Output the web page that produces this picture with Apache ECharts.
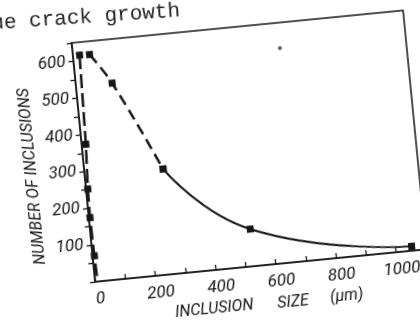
<!DOCTYPE html>
<html>
<head>
<meta charset="utf-8">
<script src="https://cdn.jsdelivr.net/npm/echarts@6/dist/echarts.min.js"></script>
<style>
  html, body { margin: 0; padding: 0; background: #fff; overflow: hidden; width: 420px; height: 325px; }
  /* the scan is tilted, so the whole drawing is turned a little */
  #chart { position: absolute; left: -30px; top: -30px; width: 480px; height: 385px;
           transform: rotate(-5.6deg); transform-origin: 50% 50%; }
</style>
</head>
<body>
<div id="chart"></div>
<script>
// steep curve hugging the y axis (dashed)
var steepX = [22, 14, 6, 4, 6, 8];
var steepY = [615, 373, 252, 174, 70, 15];
// second curve, dashed part then solid part
var dashX = [55, 120, 260];
var dashY = [614, 531, 286];
var solidX = [260, 527, 1052];
var solidY = [286, 101, 12];
// stray speck on the scan
var speckX = [683];
var speckY = [581];

var xTickLabels = [0, 200, 400, 600, 800, 1000];
var yTickLabels = [100, 200, 300, 400, 500, 600];

var ink = '#161616';
var lblFont = 'Roboto';

function pairs(xs, ys) {
    return xs.map(function (x, i) { return [x, ys[i]]; });
}

var steepData = pairs(steepX, steepY).map(function (p, i) {
    // line runs on a little past the last square
    return i === steepX.length - 1 ? { value: p, symbol: 'none' } : p;
});

function nameText(txt, x, y, rot) {
    return {
        type: 'text',
        x: x,
        y: y,
        rotation: rot || 0,
        style: {
            text: txt,
            font: 'italic 16px Roboto',
            fill: ink,
            align: 'center',
            verticalAlign: 'middle'
        }
    };
}

var myChart = echarts.init(document.getElementById('chart'));

option = {
    animation: false,
    backgroundColor: '#fff',
    grid: {
        left: 114,
        top: 60,
        width: 333,
        height: 240,
        show: true,
        borderColor: ink,
        borderWidth: 1.5
    },
    xAxis: {
        type: 'value',
        min: 0,
        max: 1100,
        interval: 100,
        axisLine: { lineStyle: { color: ink, width: 1.6 } },
        axisTick: { inside: true, length: 5, lineStyle: { color: ink, width: 1.3 } },
        splitLine: { show: false },
        axisLabel: {
            margin: 9,
            color: ink,
            fontSize: 17,
            fontStyle: 'italic',
            fontFamily: lblFont,
            padding: [0, 0, 0, 8],
            formatter: function (v) {
                return xTickLabels.indexOf(v) >= 0 ? String(v) : '';
            }
        }
    },
    yAxis: {
        type: 'value',
        min: 0,
        max: 650,
        interval: 50,
        axisLine: { lineStyle: { color: ink, width: 1.6 } },
        axisTick: { inside: false, length: 5, lineStyle: { color: ink, width: 1.3 } },
        splitLine: { show: false },
        axisLabel: {
            margin: 8,
            color: ink,
            fontSize: 17,
            fontStyle: 'italic',
            fontFamily: lblFont,
            formatter: function (v) {
                return yTickLabels.indexOf(v) >= 0 ? String(v) : '';
            }
        }
    },
    graphic: [
        {
            type: 'text',
            x: 36,
            y: 33,
            rotation: -0.03,
            style: {
                text: 'ue crack growth',
                font: '21px "Liberation Mono"',
                fill: '#222',
                verticalAlign: 'middle'
            }
        },
        nameText('NUMBER OF INCLUSIONS', 62, 189, Math.PI / 2),
        nameText('INCLUSION', 230, 339),
        nameText('SIZE', 309, 340),
        nameText('(μm)', 363, 339)
    ],
    series: [
        {
            type: 'line',
            data: steepData,
            symbol: 'rect',
            symbolSize: 7,
            itemStyle: { color: ink },
            lineStyle: { color: ink, width: 2.5, type: [14, 5] }
        },
        {
            type: 'line',
            data: pairs(dashX, dashY),
            smooth: 0.4,
            symbol: 'rect',
            symbolSize: 7,
            itemStyle: { color: ink },
            lineStyle: { color: ink, width: 2.5, type: [11, 6] }
        },
        {
            type: 'line',
            data: pairs(solidX, solidY),
            smooth: true,
            symbol: 'rect',
            symbolSize: 7,
            itemStyle: { color: ink },
            lineStyle: { color: ink, width: 2 }
        },
        {
            type: 'scatter',
            data: pairs(speckX, speckY),
            symbol: 'circle',
            symbolSize: 4,
            itemStyle: { color: '#333' }
        }
    ]
};
myChart.setOption(option);
</script>
</body>
</html>
